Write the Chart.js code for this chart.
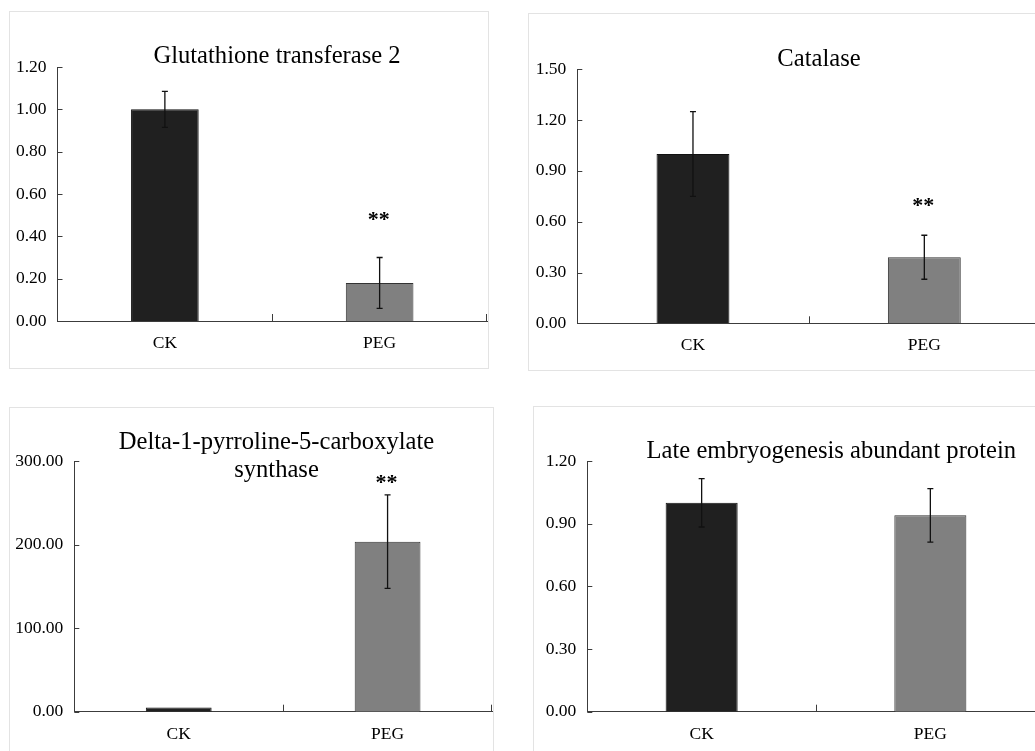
<!DOCTYPE html>
<html>
<head>
<meta charset="utf-8">
<script src="https://cdn.jsdelivr.net/npm/chart.js@4.4.0/dist/chart.umd.min.js"></script>
<style>
    body { margin: 0; width: 1035px; height: 751px; overflow: hidden; background: #fff; position: relative; }
    .frame { position: absolute; border: 1px solid #e3e3e3; box-sizing: border-box; }
    canvas { position: absolute; }
</style>
</head>
<body>
<div class="frame" style="left:9px;top:11px;width:480px;height:358px"></div>
<div class="frame" style="left:528px;top:13px;width:520px;height:358px"></div>
<div class="frame" style="left:9px;top:407px;width:485px;height:360px"></div>
<div class="frame" style="left:533px;top:406px;width:520px;height:360px"></div>
<canvas id="gst" width="480" height="358" style="left:9px;top:11px"></canvas>
<canvas id="cat" width="520" height="358" style="left:528px;top:13px"></canvas>
<canvas id="p5cs" width="485" height="360" style="left:9px;top:407px"></canvas>
<canvas id="lea" width="520" height="360" style="left:533px;top:406px"></canvas>
<script>
const categories = ['CK', 'PEG'];

// relative expression, mean and error bar (SD) per group
const gstMeans = [1.00, 0.18];
const gstErrors = [0.085, 0.12];
const gstTicks = [0, 0.2, 0.4, 0.6, 0.8, 1.0, 1.2];
const gstStars = [null, 0.50];

const catMeans = [1.00, 0.39];
const catErrors = [0.25, 0.13];
const catTicks = [0, 0.3, 0.6, 0.9, 1.2, 1.5];
const catStars = [null, 0.72];

const p5csMeans = [5, 203.5];
const p5csErrors = [0.3, 56];
const p5csTicks = [0, 100, 200, 300];
const p5csStars = [null, 279];

const leaMeans = [1.00, 0.94];
const leaErrors = [0.116, 0.128];
const leaTicks = [0, 0.3, 0.6, 0.9, 1.2];
const leaStars = [null, null];

const fontFamily = "'Liberation Serif', 'Times New Roman', serif";
const textColor = '#000';
const axisColor = '#3c3c3c';

// error bars + significance stars + inner tick marks + title
const extrasPlugin = {
    id: 'extras',
    afterDatasetsDraw(chart, args, opts) {
        const {ctx, chartArea} = chart;
        const y = chart.scales.y;
        const x = chart.scales.x;
        const meta = chart.getDatasetMeta(0);
        ctx.save();

        // ticks pointing into the plot
        ctx.strokeStyle = axisColor;
        ctx.lineWidth = 1;
        ctx.beginPath();
        y.ticks.forEach(t => {
            const py = Math.round(y.getPixelForValue(t.value)) + 0.5;
            ctx.moveTo(chartArea.left, py);
            ctx.lineTo(chartArea.left + 5, py);
        });
        const mid = Math.round((x.getPixelForTick(0) + x.getPixelForTick(1)) / 2) + 0.5;
        [mid, Math.round(chartArea.right) - 0.5].forEach(px => {
            ctx.moveTo(px, chartArea.bottom);
            ctx.lineTo(px, chartArea.bottom - 7);
        });
        ctx.stroke();

        // error bars
        ctx.strokeStyle = '#111';
        ctx.lineWidth = 1.3;
        meta.data.forEach((bar, i) => {
            const m = opts.means[i];
            const e = opts.errors[i];
            const top = y.getPixelForValue(m + e);
            const bot = y.getPixelForValue(m - e);
            if (bot - top < 3) return;
            ctx.beginPath();
            ctx.moveTo(bar.x, top);
            ctx.lineTo(bar.x, bot);
            ctx.moveTo(bar.x - 3, top);
            ctx.lineTo(bar.x + 3, top);
            ctx.moveTo(bar.x - 3, bot);
            ctx.lineTo(bar.x + 3, bot);
            ctx.stroke();
        });

        // significance
        ctx.fillStyle = textColor;
        ctx.font = 'bold 22px ' + fontFamily;
        ctx.textAlign = 'center';
        ctx.textBaseline = 'middle';
        meta.data.forEach((bar, i) => {
            const s = opts.stars[i];
            if (s !== null) {
                ctx.fillText('**', bar.x - 1, y.getPixelForValue(s) + 5);
            }
        });

        // title
        ctx.font = '24.6px ' + fontFamily;
        ctx.textBaseline = 'alphabetic';
        opts.title.forEach((line, i) => {
            ctx.fillText(line, opts.titleX, opts.titleY + i * 28);
        });
        ctx.restore();
    }
};

const makeChart = (id, means, errors, ticks, stars, p) => {
    const canvas = document.getElementById(id);
    return new Chart(canvas.getContext('2d'), {
        type: 'bar',
        data: {
            labels: categories,
            datasets: [
                {
                    data: means,
                    backgroundColor: ['#202020', '#808080'],
                    borderColor: ['#111', '#333'],
                    borderWidth: 1,
                    categoryPercentage: 1,
                    barPercentage: 0.315,
                },
            ],
        },
        options: {
            responsive: false,
            animation: false,
            layout: {
                padding: {top: p.top, right: p.right, left: 0, bottom: 0},
            },
            scales: {
                y: {
                    min: ticks[0],
                    max: ticks[ticks.length - 1],
                    afterFit: (scale) => { scale.width = p.left; },
                    afterBuildTicks: (scale) => { scale.ticks = ticks.map(v => ({value: v})); },
                    border: {display: true, color: axisColor, width: 1},
                    grid: {display: false, drawTicks: false},
                    ticks: {
                        padding: 11,
                        color: textColor,
                        font: {family: fontFamily, size: 17.5},
                        callback: (value) => value.toFixed(2),
                    },
                },
                x: {
                    afterFit: (scale) => { scale.height = p.bottom; },
                    border: {display: true, color: axisColor, width: 1},
                    grid: {display: false, drawTicks: false},
                    ticks: {
                        padding: 12,
                        color: textColor,
                        font: {family: fontFamily, size: 17.5},
                    },
                },
            },
            plugins: {
                legend: {display: false},
                tooltip: {enabled: false},
                extras: {
                    means: means,
                    errors: errors,
                    stars: stars,
                    title: p.title,
                    titleX: p.titleX,
                    titleY: p.titleY,
                },
            },
        },
        plugins: [extrasPlugin],
    });
};

makeChart('gst', gstMeans, gstErrors, gstTicks, gstStars,
    {left: 48.5, top: 56, right: 2, bottom: 48, title: ['Glutathione transferase 2'], titleX: 268, titleY: 51.7});
makeChart('cat', catMeans, catErrors, catTicks, catStars,
    {left: 49.3, top: 56.3, right: 8, bottom: 47.7, title: ['Catalase'], titleX: 291, titleY: 53});
makeChart('p5cs', p5csMeans, p5csErrors, p5csTicks, p5csStars,
    {left: 65.3, top: 54, right: 2, bottom: 55.3, title: ['Delta-1-pyrroline-5-carboxylate', 'synthase'], titleX: 267.5, titleY: 42.3});
makeChart('lea', leaMeans, leaErrors, leaTicks, leaStars,
    {left: 54.3, top: 55, right: 8.3, bottom: 54.3, title: ['Late embryogenesis abundant protein'], titleX: 298.3, titleY: 52.3});
</script>
</body>
</html>
